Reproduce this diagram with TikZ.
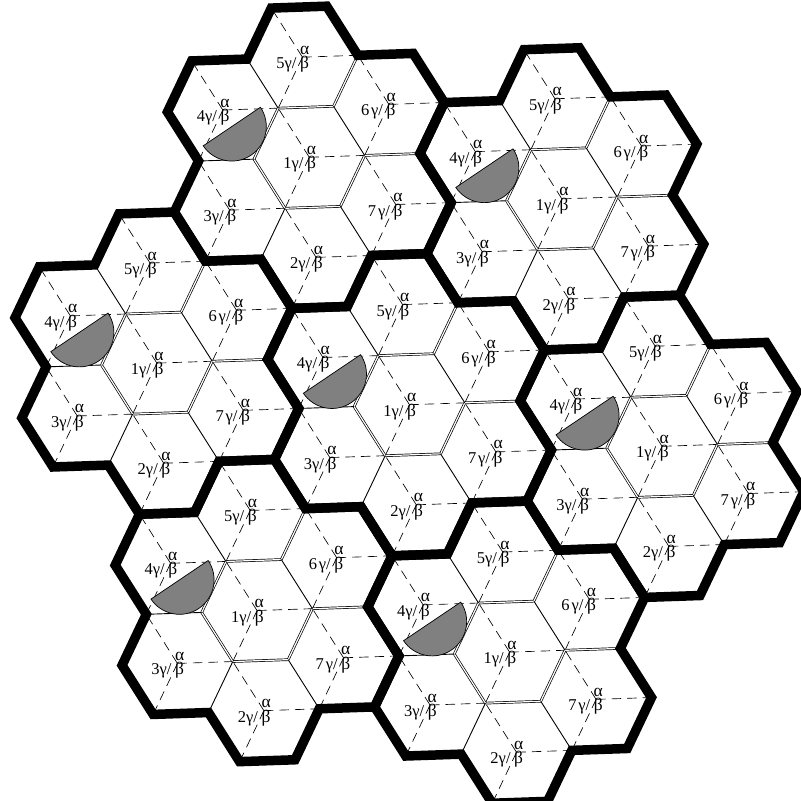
\documentclass[tikz,border=0pt]{standalone}
\usepackage{fontspec}
\setmainfont{Liberation Serif}
\definecolor{sectorgray}{HTML}{808080}
\newcommand\mygreekpair{{\fontsize{17.5}{17.5}\selectfont\ooalign{\hfil\raisebox{14.5pt}{α}\hfil\cr\hfil β\hfil\cr}}}
\tikzset{
  outline/.style={line width=9.5pt, line join=miter, black},
  dbl/.style={double, double distance=1.2pt, line width=0.7pt},
  sgl/.style={line width=0.9pt},
  ray/.style={dash pattern=on 9.5pt off 6pt, line width=0.65pt},
  lab/.style={inner sep=0pt, font=\fontsize{16.5}{16.5}\selectfont},
  sector/.style={fill=sectorgray, draw=black, line width=0.7pt}
}
\begin{document}
\begin{tikzpicture}[x=1pt,y=-1pt]
\useasboundingbox (0,0) rectangle (801,801);
% lattice: unit vectors = one third of the neighbour steps
\begin{scope}[shift={(409.46pt,-404.71pt)}, x={(26.543pt,17.623pt)}, y={(-2.283pt,33.367pt)}]
  \foreach \cx/\cy/\cn in {0/0/C, -3/9/T, 6/3/UR, -9/6/L, 9/-6/R, -6/-3/BL, 3/-9/BR}{
    \begin{scope}[shift={(\cx,\cy)}]
      \foreach \k/\a/\b in {1/0/0, 5/0/3, 6/3/0, 7/3/-3, 2/0/-3, 3/-3/0, 4/-3/3}{
        \coordinate (\cn-\k) at (\a,\b);
        \draw[ray] (\cn-\k) -- ++(-1,2);
        \draw[ray] (\cn-\k) -- ++(2,-1);
        \draw[ray] (\cn-\k) -- ++(-1,-1);
      }
      % double internal edges
      \draw[dbl] (-1,2) -- (1,1);
      \draw[dbl] (2,-1) -- (1,-2);
      \draw[dbl] (1,-2) -- (-1,-1);
      \draw[dbl] (-1,-1) -- (-2,1);
      \draw[dbl] (-2,1) -- (-1,2);
      \draw[dbl] (2,2) -- (1,1);
      \draw[dbl] (4,-2) -- (2,-1);
      % single internal edges
      \draw[sgl] (1,1) -- (2,-1);
      \draw[sgl] (2,-4) -- (1,-2);
      \draw[sgl] (-2,-2) -- (-1,-1);
      \draw[sgl] (-4,2) -- (-2,1);
      \draw[sgl] (-2,4) -- (-1,2);
    \end{scope}
  }
\end{scope}
% sectors in cell 4 of every cluster
\foreach \cn in {C,T,UR,L,R,BL,BR}{
  \filldraw[sector] ([shift={(37.6pt,2.8pt)}]\cn-4) arc[start angle=34, end angle=-146, radius=34.5pt] -- cycle;
}
% labels
\foreach \cn in {C,T,UR,L,R,BL,BR}{
  \foreach \k/\t in {1/1, 2/2, 3/3, 4/4, 5/5, 6/{6\kern1.8pt}, 7/{7\kern1.8pt}}{
    \node[lab, anchor=base] (\cn-\k-n) at ([shift={(2.2pt,-11.5pt)}]\cn-\k) {\llap{\t γ/\kern3.5pt}\mygreekpair};
  }
}
% thick cluster outlines
\begin{scope}[shift={(409.46pt,-404.71pt)}, x={(26.543pt,17.623pt)}, y={(-2.283pt,33.367pt)}]
  \foreach \cx/\cy in {0/0, -3/9, 6/3, -9/6, 9/-6, -6/-3, 3/-9}{
    \draw[outline, shift={(\cx,\cy)}] (-2,4) -- (-1,5) -- (1,4) -- (2,2) -- (4,1) -- (5,-1) -- (4,-2) -- (5,-4) -- (4,-5) -- (2,-4) -- (1,-5) -- (-1,-4) -- (-2,-2) -- (-4,-1) -- (-5,1) -- (-4,2) -- (-5,4) -- (-4,5) -- cycle;
  }
\end{scope}
\end{tikzpicture}
\end{document}
